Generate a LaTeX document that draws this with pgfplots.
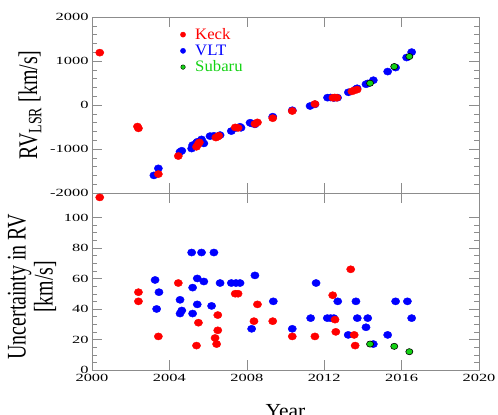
\documentclass[border=0pt]{standalone}
\usepackage{pgfplots}
\pgfplotsset{compat=1.18}
\usepackage{fontspec}
\setmainfont{Liberation Serif}
\newfontfamily\tickfont[FakeStretch=1.5]{Liberation Serif}
\newfontfamily\legfont[FakeStretch=1.05]{Liberation Serif}
\definecolor{subgreen}{RGB}{20,210,20}
\definecolor{axgray}{RGB}{140,140,140}
\pgfplotsset{
  common/.style={
    scale only axis, width=387bp,
    xmin=2000, xmax=2020, xtick={2000,2004,...,2020}, minor x tick num=3,
    axis line style={axgray}, every tick/.style={axgray},
    major tick length=10bp, minor tick length=5bp,
    tick align=inside,
    /pgf/number format/assume math mode=true,
    /pgf/number format/1000 sep={},
    ticklabel style={font=\tickfont\fontsize{11}{11}\selectfont, black},
  },
  keck/.style={only marks, mark=*, mark size=3.6bp, color=red, mark options={xscale=1.15, draw=red, fill=red}},
  vlt/.style={only marks, mark=*, mark size=3.6bp, color=blue, mark options={xscale=1.15, draw=blue, fill=blue}},
  sub/.style={only marks, mark=*, mark size=3.1bp, mark options={xscale=1.15, draw=black, fill=subgreen, line width=0.6bp}},
}
\begin{document}
\begin{tikzpicture}
% bottom panel
\begin{axis}[common,
  at={(92bp,45bp)}, anchor=south west, height=177bp,
  ymin=0, ymax=116, ytick={0,20,...,100}, minor y tick num=3,
  xticklabel style={yshift=-1bp},
  ylabel={\scalebox{1}[1.35]{\begin{tabular}{c}Uncertainty in RV\\[-2pt][km/s]\end{tabular}}},
  ylabel style={at={(axis description cs:-0.152,0.47)}, anchor=center, font=\fontsize{20}{22}\selectfont},
  xlabel={\scalebox{1.08}[1]{Year}},
  xlabel style={font=\fontsize{20}{20}\selectfont, at={(axis description cs:0.5,0)}, anchor=north, yshift=-31bp},
]
\addplot[vlt] coordinates {
(2003.26,59) (2003.46,51) (2003.34,40) (2004.55,46) (2004.55,37) (2004.64,39)
(2005.15,77) (2005.2,54) (2005.2,37) (2005.44,60) (2005.44,43) (2005.66,77)
(2005.78,58) (2006.18,42) (2006.3,77) (2006.62,57) (2007.2,57) (2007.44,57)
(2007.65,57) (2008.42,62) (2008.25,27) (2009.37,45) (2010.35,27) (2011.3,34)
(2011.58,57) (2012.16,34) (2012.33,34) (2012.5,34) (2012.7,45) (2013.24,23)
(2013.64,45) (2013.71,34) (2014.16,28) (2014.25,34) (2014.54,17) (2015.28,23)
(2015.69,45) (2016.3,45) (2016.52,34)
};
\addplot[keck] coordinates {
(2002.4,51) (2002.4,45) (2003.43,22) (2004.46,57) (2005.4,16) (2005.5,31)
(2006.36,21) (2006.44,17) (2006.5,26) (2006.5,36) (2007.4,50) (2007.55,50)
(2008.37,32) (2008.55,43) (2009.34,32) (2010.35,22) (2011.52,22) (2012.44,49)
(2012.56,33) (2012.6,25) (2013.37,66) (2013.55,23) (2013.6,16)
};
\addplot[sub] coordinates {(2014.37,17) (2015.62,15.5) (2016.4,12)};
\end{axis}
% top panel
\begin{axis}[common,
  at={(92bp,222bp)}, anchor=south west, height=176bp,
  ymin=-2000, ymax=2000, ytick={-2000,-1000,...,2000}, minor y tick num=4,
  xticklabels={}, clip=false,
  ylabel={\scalebox{1}[1.35]{RV$_{\mathrm{LSR}}$ [km/s]}},
  ylabel style={at={(axis description cs:-0.16,0.5)}, anchor=center, font=\fontsize{20}{22}\selectfont},
  legend style={at={(axis description cs:0.228,0.948)}, anchor=north west, draw=none, fill=none,
    font=\legfont\fontsize{16}{19}\selectfont, row sep=0bp, inner sep=0pt},
  legend cell align=left,
  legend image code/.code={\draw[#1] plot coordinates {(0bp,0bp)}; \path (10bp,0bp);},
]
\addlegendimage{only marks, mark=*, mark size=2.6bp, red}
\addlegendentry[text=red]{Keck}
\addlegendimage{only marks, mark=*, mark size=2.6bp, blue}
\addlegendentry[text=blue]{VLT}
\addlegendimage{only marks, mark=*, mark size=2.3bp, mark options={draw=black, fill=subgreen}}
\addlegendentry[text=subgreen]{Subaru}
\addplot[vlt, forget plot] coordinates {
(2003.2,-1600) (2003.43,-1440) (2004.55,-1065) (2004.64,-1040) (2005.15,-990)
(2005.2,-912) (2005.4,-860) (2005.66,-782) (2005.78,-873) (2005.44,-837)
(2006.1,-707) (2006.3,-700) (2006.62,-684) (2007.2,-593) (2007.45,-520)
(2007.65,-495) (2007.7,-518) (2008.17,-404) (2008.25,-418) (2008.42,-440)
(2009.34,-266) (2010.35,-120) (2011.27,-23) (2011.52,15) (2012.17,167)
(2012.33,170) (2012.5,160) (2012.69,167) (2013.25,289) (2013.64,360)
(2013.7,380) (2014.16,472) (2014.25,490) (2014.54,563) (2015.28,760)
(2015.69,851) (2016.26,1079) (2016.52,1202)
};
\addplot[keck, forget plot] coordinates {
(2000.4,1190) (2000.4,-2100) (2002.35,-490) (2002.4,-530) (2003.43,-1570)
(2004.46,-1160) (2005.4,-950) (2005.5,-880) (2005.55,-850) (2006.4,-740)
(2006.5,-720) (2006.55,-700) (2007.4,-510) (2007.55,-520) (2008.42,-430)
(2008.55,-395) (2009.34,-300) (2010.35,-137) (2011.52,23) (2012.45,165)
(2012.55,170) (2012.65,165) (2013.43,310) (2013.55,330) (2013.7,350)
};
\addplot[sub, forget plot] coordinates {(2014.37,495) (2015.62,874) (2016.4,1102)};
\end{axis}
\pgfresetboundingbox
\useasboundingbox (0,0) rectangle (498bp,415bp);
\end{tikzpicture}
\end{document}
